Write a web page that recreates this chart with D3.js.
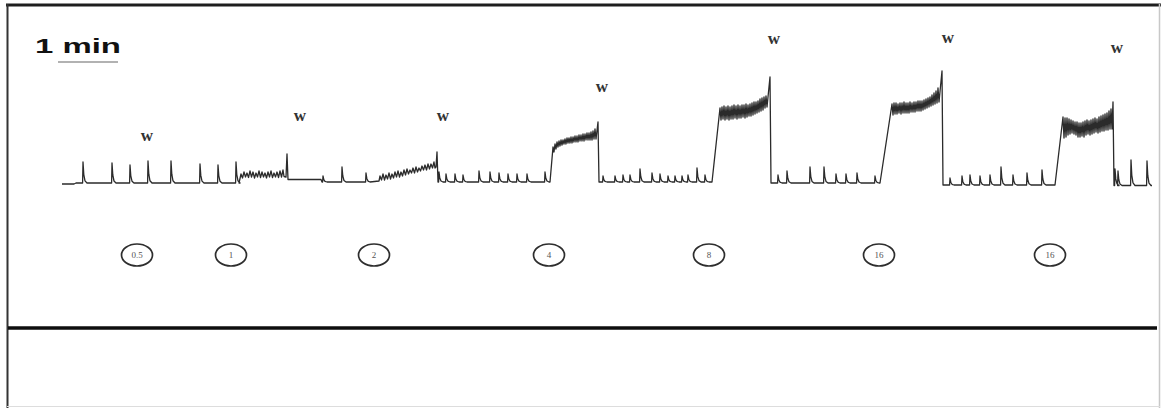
<!DOCTYPE html>
<html><head><meta charset="utf-8">
<script src="https://cdn.jsdelivr.net/npm/d3@7"></script>
<style>html,body{margin:0;padding:0;background:#fff;} svg{display:block;}</style>
</head><body>
<svg id="chart" width="1164" height="408"></svg>
<script>
// ---- Data (time in s, tension in arbitrary units) ----
const doseLabels = ["0.5", "1", "2", "4", "8", "16", "16"];
const doseTimes = [75, 169, 312, 487, 647, 817, 988];
const washTimes = [85, 238, 381, 540, 712, 886, 1055];
const washLabelLevels = [4.2, 6.2, 6.2, 9.1, 13.9, 14.0, 13.0];

// wash peaks (end of each drug exposure)
const washPeakT = [225, 375, 536, 708, 880, 1051];
const washPeakV = [2.9, 3.1, 6.1, 10.6, 11.2, 8.1];

// baseline level of each resting section
const sectionBase = [0, 0.35, 0.1, 0.1, 0.1, 0, -0.2, -0.25];

// spontaneous phasic contractions [time, peak]
const spikesA = [[21,2.1],[50,2.0],[68,1.8],[86,2.2],[109,2.2],[138,1.9],[156,1.8],[174,2.1]];
const spikesB = [[261,0.7],[280,1.6],[304,1.0]];
const spikesC = [[377,1.1],[384,0.9],[393,0.9],[401,0.8],[417,1.2],[428,1.1],[437,1.0],[446,0.9],[455,0.9],[465,0.9],[483,1.1]];
const spikesD = [[541,0.7],[553,0.7],[561,0.8],[568,0.8],[578,1.4],[590,1.0],[598,0.9],[606,0.7],[613,0.7],[620,0.7],[626,0.8],[635,1.5],[643,0.8]];
const spikesE = [[716,0.8],[725,1.2],[748,1.6],[762,1.6],[774,0.9],[784,0.9],[795,1.0],[813,0.7]];
const spikesF = [[888,0.5],[900,0.7],[908,0.8],[918,0.7],[928,0.8],[939,1.6],[951,0.8],[965,1.0],[980,1.3]];
const spikesG = [[1053,1.4],[1056,1.2],[1069,2.3],[1085,2.2]];

// sustained contraction bands (upper / lower envelope)
const tDose1 = [179,182,185,188,191,194,197,200,203,206,209,212,215,218,221];
const upDose1 = [0.9,1.1,1.0,1.2,1.1,1.0,1.2,1.1,1.0,1.1,1.2,1.0,1.1,1.2,1.3];
const loDose1 = [0.5,0.6,0.55,0.6,0.5,0.6,0.55,0.6,0.5,0.6,0.55,0.6,0.55,0.6,0.65];

const tDose2 = [318,321,324,327,330,333,336,339,342,345,348,351,354,357,360,363,366,369,372];
const upDose2 = [0.7,0.9,0.8,1.0,0.9,1.1,1.2,1.1,1.3,1.4,1.3,1.5,1.6,1.5,1.7,1.8,1.9,1.9,2.1];
const loDose2 = [0.3,0.3,0.4,0.4,0.5,0.6,0.6,0.7,0.8,0.9,1.0,1.0,1.1,1.2,1.3,1.3,1.4,1.5,1.5];

const tDose4 = [491,493,495,497,499,501,503,505,507,509,511,513,515,517,519,521,523,525,527,529,531,533];
const upDose4 = [3.6,3.9,4.1,4.2,4.3,4.3,4.4,4.5,4.5,4.6,4.6,4.7,4.7,4.8,4.8,4.9,4.9,5.0,5.0,5.1,5.2,5.4];
const loDose4 = [3.1,3.4,3.6,3.7,3.8,3.9,3.9,4.0,4.0,4.0,4.1,4.1,4.1,4.2,4.2,4.2,4.3,4.3,4.3,4.3,4.4,4.4];

const tDose8 = [658,660,662,664,666,668,670,672,674,676,678,680,682,684,686,688,690,692,694,696,698,700,702,704];
const upDose8 = [7.5,7.6,7.7,7.6,7.7,7.6,7.7,7.8,7.7,7.8,7.7,7.8,7.8,7.9,7.8,7.9,8.0,8.1,8.1,8.2,8.4,8.5,8.6,8.7];
const loDose8 = [6.3,6.4,6.3,6.4,6.3,6.4,6.4,6.5,6.4,6.5,6.5,6.6,6.5,6.6,6.7,6.7,6.8,6.9,7.0,7.1,7.2,7.3,7.5,7.6];

const tDose16a = [830,832,834,836,838,840,842,844,846,848,850,852,854,856,858,860,862,864,866,868,870,872,874,876];
const upDose16a = [7.9,8.0,8.0,7.9,8.0,8.0,8.1,8.0,8.0,8.1,8.0,8.1,8.1,8.2,8.2,8.2,8.3,8.4,8.5,8.6,8.8,9.0,9.2,9.5];
const loDose16a = [6.8,6.9,6.9,7.0,6.9,7.0,7.0,7.0,7.0,7.1,7.1,7.1,7.2,7.2,7.2,7.3,7.4,7.5,7.6,7.7,7.8,7.9,8.0,8.1];

const tDose16b = [1001,1003,1005,1007,1009,1011,1013,1015,1017,1019,1021,1023,1025,1027,1029,1031,1033,1035,1037,1039,1041,1043,1045,1047,1049];
const upDose16b = [6.6,6.5,6.5,6.4,6.3,6.2,6.1,6.1,6.0,6.0,6.1,6.2,6.3,6.2,6.3,6.4,6.5,6.4,6.6,6.7,6.8,6.9,7.0,7.2,7.4];
const loDose16b = [4.5,4.6,4.8,4.9,5.0,4.9,4.8,4.6,4.6,4.7,4.6,4.8,4.9,4.8,4.9,5.0,5.1,5.0,5.1,5.2,5.2,5.3,5.3,5.4,5.4];

const scaleBarSeconds = 60;
const scaleBarLabel = "1 min";

// ---- Scales ----
const svg = d3.select('#chart');
const x = d3.scaleLinear().domain([0, 1100]).range([62, 1162]);
const y = d3.scaleLinear().domain([0, 11]).range([183, 73]);

// ---- Frame ----
svg.append('line').attr('x1',6).attr('x2',1161).attr('y1',5).attr('y2',5).attr('stroke','#1e1e1e').attr('stroke-width',3);
svg.append('line').attr('x1',7.5).attr('x2',7.5).attr('y1',4).attr('y2',408).attr('stroke','#333').attr('stroke-width',2);
svg.append('line').attr('x1',1159.5).attr('x2',1159.5).attr('y1',4).attr('y2',408).attr('stroke','#c8c8c8').attr('stroke-width',1.5);
svg.append('line').attr('x1',7).attr('x2',1160).attr('y1',406.5).attr('y2',406.5).attr('stroke','#ddd').attr('stroke-width',1);
svg.append('line').attr('x1',8).attr('x2',1157).attr('y1',328).attr('y2',328).attr('stroke','#0e0e0e').attr('stroke-width',3.5);

// ---- Scale bar ----
svg.append('text').attr('x',35).attr('y',53).text(scaleBarLabel)
  .attr('font-family','Liberation Sans, Arial, sans-serif').attr('font-weight','bold').attr('font-size',21)
  .attr('textLength',86).attr('lengthAdjust','spacingAndGlyphs').attr('fill','#111');
svg.append('line').attr('x1',x(-4)).attr('x2',x(-4+scaleBarSeconds)).attr('y1',62).attr('y2',62)
  .attr('stroke','#999').attr('stroke-width',1.5);

// ---- Build trace ----
const pts = [];
function addSpikes(base, spikes) {
  spikes.forEach(([t, p]) => {
    const a = p - base;
    pts.push([t-0.4, base], [t, p], [t+0.8, base+0.4*a], [t+2, base+0.1*a], [t+4, base]);
  });
}
function addBand(ts, up, lo) {
  ts.forEach((t, i) => {
    const next = i < ts.length-1 ? ts[i+1] : t+2;
    pts.push([t, up[i]], [(t+next)/2, lo[i]]);
  });
}
pts.push([0, -0.1], [12, -0.1], [14, sectionBase[0]]);
addSpikes(sectionBase[0], spikesA);
pts.push([177, sectionBase[0]]);
addBand(tDose1, upDose1, loDose1);
pts.push([washPeakT[0]-1, 0.6], [washPeakT[0], washPeakV[0]], [washPeakT[0]+1, sectionBase[1]], [259, sectionBase[1]], [260, sectionBase[2]]);
addSpikes(sectionBase[2], spikesB);
pts.push([317, 0.2]);
addBand(tDose2, upDose2, loDose2);
pts.push([washPeakT[1]-1, 1.6], [washPeakT[1], washPeakV[1]], [washPeakT[1]+1, sectionBase[3]]);
addSpikes(sectionBase[3], spikesC);
pts.push([488, sectionBase[3]]);
addBand(tDose4, upDose4, loDose4);
pts.push([washPeakT[2], washPeakV[2]], [washPeakT[2]+1, sectionBase[4]]);
addSpikes(sectionBase[4], spikesD);
pts.push([650, sectionBase[4]]);
addBand(tDose8, upDose8, loDose8);
pts.push([washPeakT[3], washPeakV[3]], [washPeakT[3]+1, sectionBase[5]]);
addSpikes(sectionBase[5], spikesE);
pts.push([818, sectionBase[5]]);
addBand(tDose16a, upDose16a, loDose16a);
pts.push([washPeakT[4], washPeakV[4]], [washPeakT[4]+1, sectionBase[6]]);
addSpikes(sectionBase[6], spikesF);
pts.push([993, sectionBase[6]]);
addBand(tDose16b, upDose16b, loDose16b);
pts.push([washPeakT[5], washPeakV[5]], [washPeakT[5]+1, sectionBase[7]]);
addSpikes(sectionBase[7], spikesG);
pts.push([1090, sectionBase[7]]);

const line = d3.line().x(d => x(d[0])).y(d => y(d[1]));
svg.append('path').datum(pts).attr('d', line).attr('fill','none')
  .attr('stroke','#2b2b2b').attr('stroke-width',1.3).attr('stroke-linejoin','round');

// ---- Wash labels ----
svg.selectAll('text.w').data(washTimes).join('text').attr('class','w')
  .attr('x', d => x(d)).attr('y', (d,i) => y(washLabelLevels[i]))
  .attr('text-anchor','middle').attr('font-family','Liberation Serif, Times New Roman, serif')
  .attr('font-weight','bold').attr('font-size',17).attr('fill','#333').text('w');

// ---- Dose labels ----
const dg = svg.selectAll('g.dose').data(doseTimes).join('g').attr('class','dose')
  .attr('transform', d => `translate(${x(d)},255)`);
dg.append('ellipse').attr('rx',15.5).attr('ry',11).attr('fill','none').attr('stroke','#2e2e2e').attr('stroke-width',1.7);
dg.append('text').attr('y',3).attr('text-anchor','middle').attr('font-family','Liberation Serif, Times New Roman, serif')
  .attr('font-size',9).attr('fill','#555').text((d,i) => doseLabels[i]);
</script>
</body></html>
